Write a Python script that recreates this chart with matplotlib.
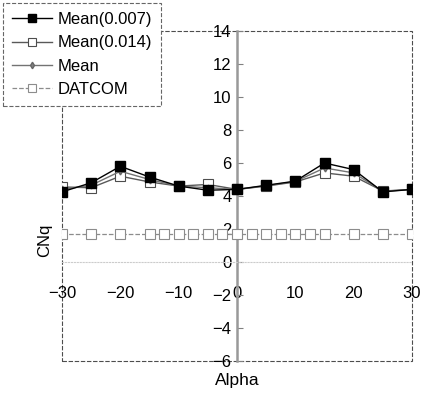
import numpy as np
import matplotlib.pyplot as plt
from matplotlib.patches import Rectangle

plt.rcParams['font.family'] = ['Liberation Sans', 'DejaVu Sans']

alpha = [-30, -25, -20, -15, -10, -5, 0, 5, 10, 15, 20, 25, 30]
mean_007 = [4.25, 4.8, 5.8, 5.15, 4.6, 4.35, 4.4, 4.65, 4.9, 6.0, 5.6, 4.25, 4.4]
mean_014 = [4.55, 4.5, 5.2, 4.85, 4.6, 4.7, 4.4, 4.6, 4.85, 5.4, 5.2, 4.3, 4.4]
mean_all = [4.4, 4.65, 5.5, 5.0, 4.6, 4.5, 4.4, 4.62, 4.88, 5.7, 5.4, 4.28, 4.4]

alpha_datcom = [-30, -25, -20, -15, -12.5, -10, -7.5, -5, -2.5, 0, 2.5, 5, 7.5,
                10, 12.5, 15, 20, 25, 30]
datcom = [1.7] * len(alpha_datcom)

fig = plt.figure(figsize=(4.23, 3.98), dpi=100)
ax = fig.add_axes([62/423, 37/398, 350/423, 330/398])

ax.plot(alpha, mean_007, '-', color='black', lw=1.0, marker='s', ms=6.5,
        mfc='black', mec='black', label='Mean(0.007)', zorder=5)
ax.plot(alpha, mean_014, '-', color='0.35', lw=1.0, marker='s', ms=6.5,
        mfc='white', mec='0.3', mew=0.8, label='Mean(0.014)', zorder=4)
ax.plot(alpha, mean_all, '-', color='0.45', lw=1.0, marker='d', ms=3.5,
        mfc='0.5', mec='0.4', label='Mean', zorder=4)
ax.plot(alpha_datcom, datcom, '--', color='0.55', lw=0.9, marker='s', ms=6.5,
        mfc='white', mec='0.55', mew=0.8, label='DATCOM', zorder=3)

ax.set_xlim(-30, 30)
ax.set_ylim(-6, 14)
ax.set_xticks(np.arange(-30, 31, 10))
ax.set_yticks(np.arange(-6, 15, 2))

ax.spines['top'].set_visible(False)
ax.spines['right'].set_visible(False)
ax.spines['left'].set_position(('data', 0))
ax.spines['left'].set_color('0.6')
ax.spines['left'].set_linewidth(1.8)
ax.spines['bottom'].set_position(('data', 0))
ax.spines['bottom'].set_color('0.8')
ax.spines['bottom'].set_linestyle(':')

ax.tick_params(axis='y', direction='in', length=4, color='0.5', pad=4, labelsize=12)
ax.tick_params(axis='x', length=0, pad=17, labelsize=12)

# dashed plot-area border
ax.add_patch(Rectangle((0, 0), 1, 1, transform=ax.transAxes, fill=False,
                       ls=(0, (4, 1.5)), lw=0.8, ec='0.3', clip_on=False, zorder=1))

fig.text(45/423, 1 - 240/398, 'CNq', rotation=90, ha='center', va='center', fontsize=12)
fig.text(237/423, 1 - 381/398, 'Alpha', ha='center', va='center', fontsize=12.5)

leg = fig.legend(loc='upper left', bbox_to_anchor=(3/423, 1 - 3/398), fontsize=12,
                 handlelength=2.4, handletextpad=0.3, labelspacing=0.5,
                 borderpad=0.55, borderaxespad=0, fancybox=False, framealpha=1,
                 edgecolor='0.4', markerscale=0.95)
leg.get_frame().set_linestyle('--')
leg.get_frame().set_linewidth(0.8)

plt.savefig('out.png', dpi=100)
